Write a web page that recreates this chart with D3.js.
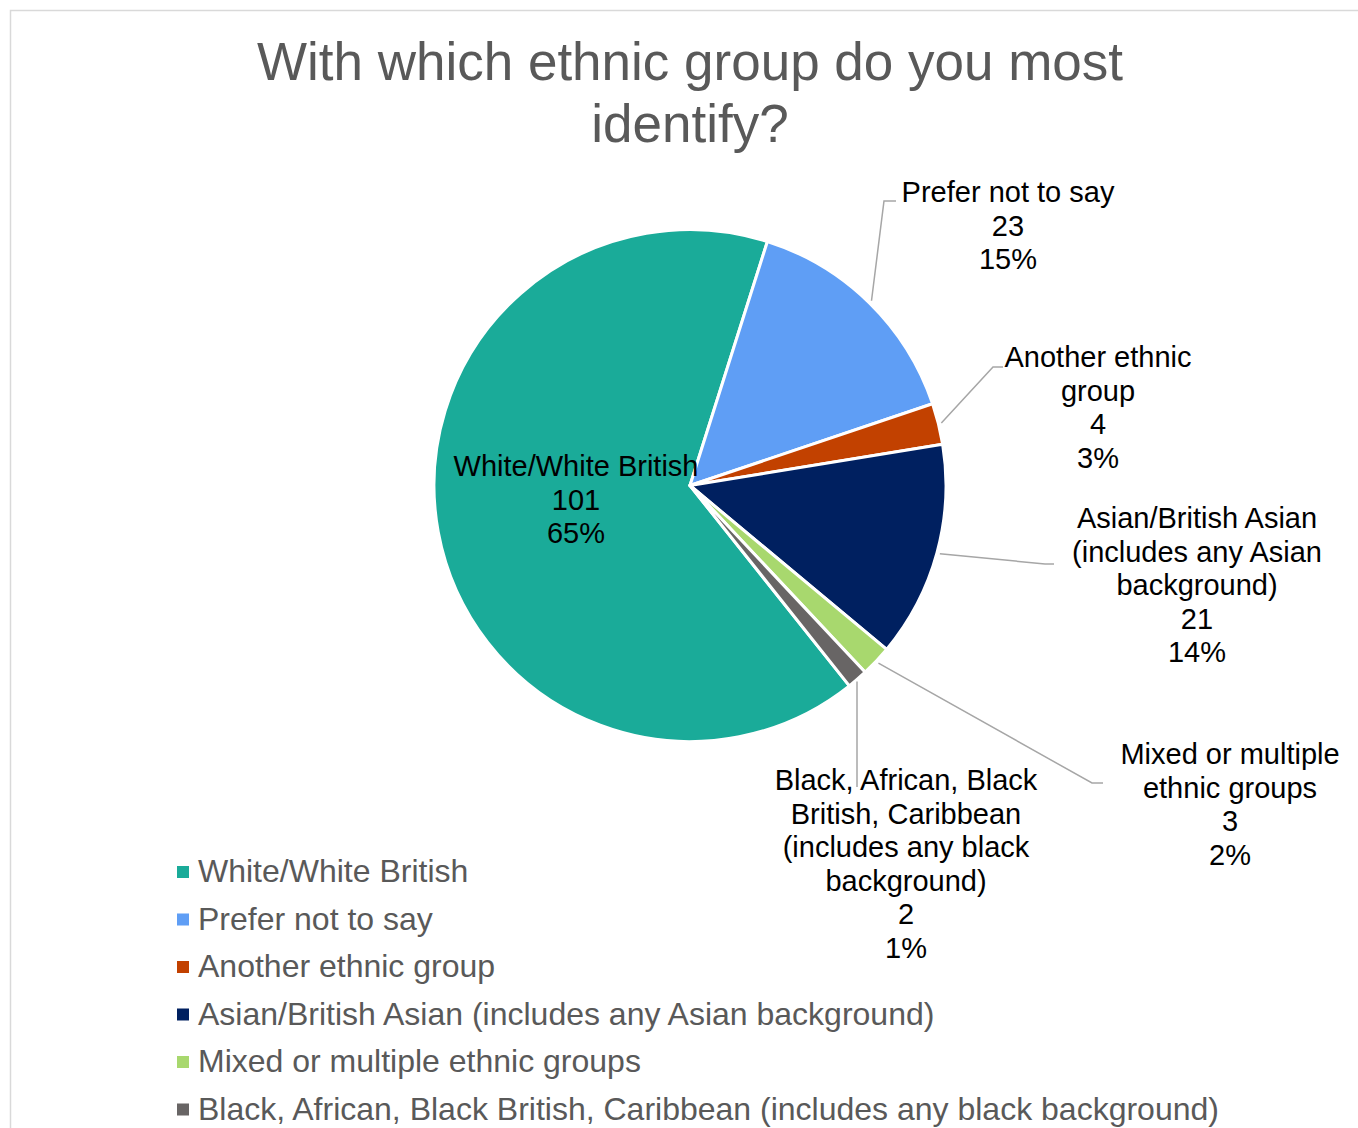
<!DOCTYPE html>
<html>
<head>
<meta charset="utf-8">
<script src="https://cdn.jsdelivr.net/npm/d3@7"></script>
<style>
  html, body { margin: 0; padding: 0; background: #ffffff; }
  svg { display: block; }
  text { font-family: "Liberation Sans", Arial, sans-serif; }
</style>
</head>
<body>
<svg id="chart" width="1358" height="1128"></svg>
<script>
// ---------- data ----------
const categories = [
  "White/White British",
  "Prefer not to say",
  "Another ethnic group",
  "Asian/British Asian (includes any Asian background)",
  "Mixed or multiple ethnic groups",
  "Black, African, Black British, Caribbean (includes any black background)"
];
const counts = [101, 23, 4, 21, 3, 2];
const percentLabels = ["65%", "15%", "3%", "14%", "2%", "1%"];
const labelLines = [
  ["White/White British"],
  ["Prefer not to say"],
  ["Another ethnic", "group"],
  ["Asian/British Asian", "(includes any Asian", "background)"],
  ["Mixed or multiple", "ethnic groups"],
  ["Black, African, Black", "British, Caribbean", "(includes any black", "background)"]
];
const colors = ["#1AAB99", "#5F9EF5", "#C24100", "#002060", "#A8D86E", "#686565"];
const titleLines = ["With which ethnic group do you most", "identify?"];

// ---------- layout ----------
const W = 1358, H = 1128;
const cx = 690, cy = 485.5, R = 256;
const startDeg = 141.5;
const labelFont = 29, lineH = 33.6;
// label anchor (center x, first baseline y), leader elbow & end
const labelLayout = [
  { x: 576, y: 476, inside: true },
  { x: 1008, y: 202, elbow: [884, 201], end: [896, 201] },
  { x: 1098, y: 367, elbow: [993, 367], end: [1003, 367] },
  { x: 1197, y: 528, elbow: [1045, 564], end: [1054, 564] },
  { x: 1230, y: 764, elbow: [1092, 783], end: [1103, 783] },
  { x: 906, y: 790, straight: [857, 787] }
];

const svg = d3.select("#chart");

// outer chart border
svg.append("rect")
  .attr("x", 10.5).attr("y", 10.5)
  .attr("width", 1400).attr("height", 1200)
  .attr("fill", "none").attr("stroke", "#D9D9D9").attr("stroke-width", 1.5);

// title
svg.append("text")
  .attr("x", cx).attr("y", 80)
  .attr("text-anchor", "middle")
  .attr("font-size", 53).attr("fill", "#595959")
  .selectAll("tspan").data(titleLines).join("tspan")
  .attr("x", cx).attr("dy", (d, i) => i === 0 ? 0 : 62)
  .text(d => d);

// pie
const rad = Math.PI / 180;
const pie = d3.pie().sort(null).value(d => d)
  .startAngle(startDeg * rad).endAngle(startDeg * rad + 2 * Math.PI);
const arcs = pie(counts);
const arc = d3.arc().innerRadius(0).outerRadius(R);

const g = svg.append("g").attr("transform", `translate(${cx},${cy})`);
g.selectAll("path.slice").data(arcs).join("path")
  .attr("class", "slice")
  .attr("d", arc)
  .attr("fill", (d, i) => colors[i])
  .attr("stroke", "#ffffff").attr("stroke-width", 3)
  .attr("stroke-linejoin", "round");

// leader lines
const edgeArc = d3.arc().innerRadius(R + 3).outerRadius(R + 3);
arcs.forEach((a, i) => {
  const L = labelLayout[i];
  if (L.inside) return;
  const c = edgeArc.centroid(a);
  const p0 = [cx + c[0], cy + c[1]];
  let pts;
  if (L.straight) pts = [[L.straight[0], p0[1]], L.straight];
  else pts = [p0, L.elbow, L.end];
  svg.append("path")
    .attr("d", d3.line()(pts))
    .attr("fill", "none").attr("stroke", "#A6A6A6").attr("stroke-width", 1.5);
});

// data labels
arcs.forEach((a, i) => {
  const L = labelLayout[i];
  const lines = labelLines[i].concat([String(counts[i]), percentLabels[i]]);
  const t = svg.append("text")
    .attr("x", L.x).attr("y", L.y)
    .attr("text-anchor", "middle")
    .attr("font-size", labelFont).attr("fill", "#000000");
  t.selectAll("tspan").data(lines).join("tspan")
    .attr("x", L.x).attr("dy", (d, j) => j === 0 ? 0 : lineH)
    .text(d => d);
});

// legend
const legendX = 177, legendY0 = 882, legendStep = 47.5;
const lg = svg.append("g");
categories.forEach((name, i) => {
  const y = legendY0 + i * legendStep;
  lg.append("rect")
    .attr("x", legendX).attr("y", y - 16)
    .attr("width", 12).attr("height", 12)
    .attr("fill", colors[i]);
  lg.append("text")
    .attr("x", legendX + 21).attr("y", y)
    .attr("font-size", 32).attr("fill", "#595959")
    .text(name);
});
</script>
</body>
</html>
